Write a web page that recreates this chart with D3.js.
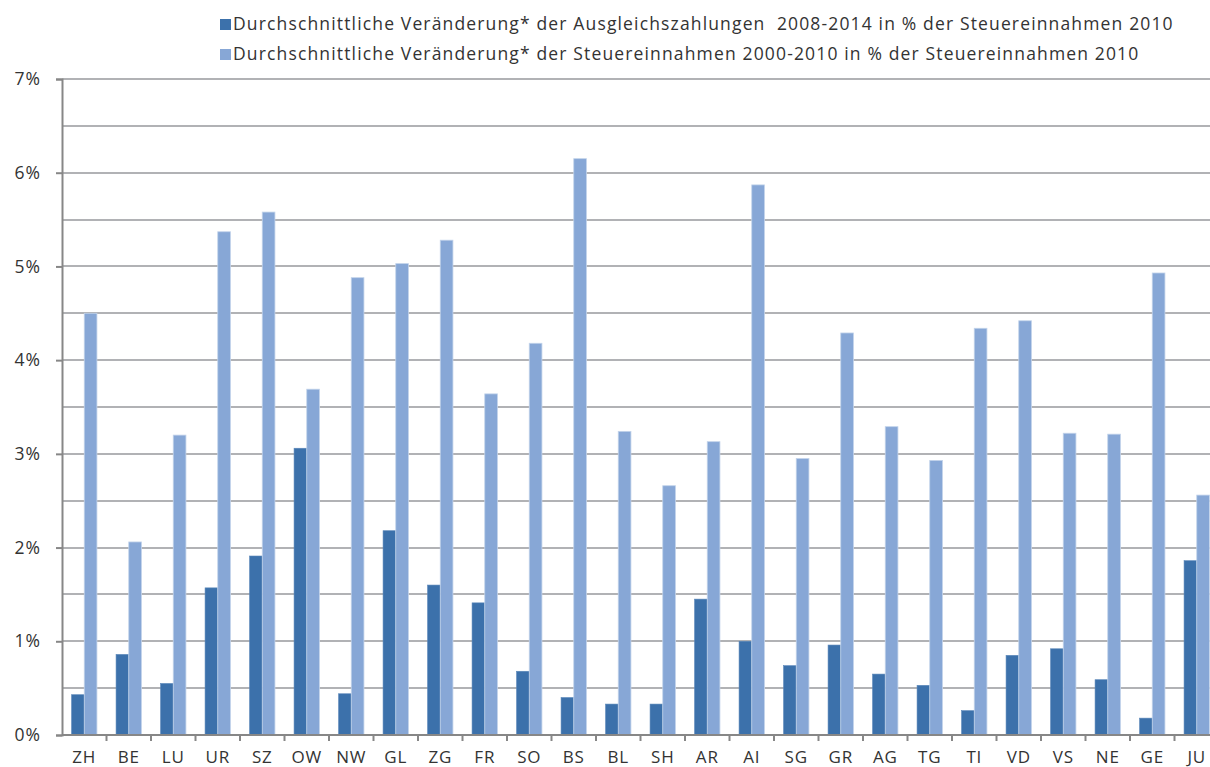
<!DOCTYPE html>
<html>
<head>
<meta charset="utf-8">
<script src="https://cdn.jsdelivr.net/npm/d3@7"></script>
<style>
  body { margin: 0; background: #fff; }
  svg { display: block; font-family: "Open Sans", "Noto Sans", sans-serif; }
  .legendText { white-space: pre; }
</style>
</head>
<body>
<svg id="chart" width="1210" height="767"></svg>
<script>
const cantons = ['ZH','BE','LU','UR','SZ','OW','NW','GL','ZG','FR','SO','BS','BL','SH','AR','AI','SG','GR','AG','TG','TI','VD','VS','NE','GE','JU'];

// Durchschnittliche Veränderung der Ausgleichszahlungen 2008-2014 (% der Steuereinnahmen 2010)
const ausgleich = [0.43,0.86,0.55,1.57,1.91,3.06,0.44,2.18,1.60,1.41,0.68,0.40,0.33,0.33,1.45,1.00,0.74,0.96,0.65,0.53,0.26,0.85,0.92,0.59,0.18,1.86];

// Durchschnittliche Veränderung der Steuereinnahmen 2000-2010 (% der Steuereinnahmen 2010)
const steuer = [4.50,2.06,3.20,5.37,5.58,3.69,4.88,5.03,5.28,3.64,4.18,6.15,3.24,2.66,3.13,5.87,2.95,4.29,3.29,2.93,4.34,4.42,3.22,3.21,4.93,2.56];

const seriesNames = [
    'Durchschnittliche Veränderung* der Ausgleichszahlungen  2008-2014 in % der Steuereinnahmen 2010',
    'Durchschnittliche Veränderung* der Steuereinnahmen 2000-2010 in % der Steuereinnahmen 2010'
];
const seriesColors = ['#3c71ab', '#87a7d6'];
const yTicks = [0,1,2,3,4,5,6,7];

const margin = {left: 62, top: 79, bottom: 32};
const width = 1210, height = 767;
const bandStep = 44.5;

const svg = d3.select('#chart');

const x = d3.scaleBand()
    .domain(cantons)
    .range([margin.left, margin.left + bandStep * cantons.length])
    .paddingInner(0.43)
    .paddingOuter(0.215);

const xInner = d3.scaleBand()
    .domain([0, 1])
    .range([0, x.bandwidth()]);

const y = d3.scaleLinear()
    .domain([0, 7])
    .range([height - margin.bottom, margin.top]);

// Gridlines every 0.5%
const gridVals = d3.range(0.5, 7.01, 0.5);
svg.append('g')
    .selectAll('line')
    .data(gridVals)
    .join('line')
        .attr('x1', margin.left)
        .attr('x2', width)
        .attr('y1', d => Math.round(y(d)))
        .attr('y2', d => Math.round(y(d)))
        .style('stroke', '#b1b2b5')
        .style('stroke-width', 2);

// Bars
const groups = svg.append('g')
    .selectAll('g')
    .data(cantons)
    .join('g')
        .attr('transform', d => `translate(${x(d)},0)`);

groups.append('rect')
    .attr('x', xInner(0))
    .attr('width', xInner.bandwidth())
    .attr('y', (d, i) => y(ausgleich[i]))
    .attr('height', (d, i) => y(0) - y(ausgleich[i]))
    .style('fill', seriesColors[0])
    .style('stroke', '#5a87b9')
    .style('stroke-width', 0.6);

groups.append('rect')
    .attr('x', xInner(1))
    .attr('width', xInner.bandwidth())
    .attr('y', (d, i) => y(steuer[i]))
    .attr('height', (d, i) => y(0) - y(steuer[i]))
    .style('fill', seriesColors[1])
    .style('stroke', '#c2d3ea')
    .style('stroke-width', 0.8);

// Y axis
const yAxis = svg.append('g')
    .attr('transform', `translate(${margin.left},0)`)
    .call(d3.axisLeft(y).tickValues(yTicks).tickFormat(d => d + '%').tickSize(6).tickPadding(15));
yAxis.select('.domain').style('stroke', '#878787').style('stroke-width', 2);
yAxis.selectAll('.tick line').style('stroke', '#878787').style('stroke-width', 2);
yAxis.selectAll('.tick text')
    .style('font-size', '17.5px')
    .style('letter-spacing', '1px')
    .style('fill', '#333')
    .style('font-family', '"Open Sans", sans-serif');

// X axis
const xAxisY = y(0);
svg.append('line')
    .attr('x1', margin.left)
    .attr('x2', width)
    .attr('y1', xAxisY)
    .attr('y2', xAxisY)
    .style('stroke', '#878787')
    .style('stroke-width', 2);

const boundaries = d3.range(1, cantons.length + 1).map(i => margin.left + i * bandStep);
svg.append('g')
    .selectAll('line')
    .data(boundaries)
    .join('line')
        .attr('x1', d => d)
        .attr('x2', d => d)
        .attr('y1', xAxisY)
        .attr('y2', xAxisY + 6)
        .style('stroke', '#878787')
        .style('stroke-width', 2);

svg.append('g')
    .selectAll('text')
    .data(cantons)
    .join('text')
        .attr('x', d => x(d) + x.bandwidth() / 2)
        .attr('y', xAxisY + 28)
        .style('text-anchor', 'middle')
        .style('font-size', '17px')
        .style('letter-spacing', '0.8px')
        .style('fill', '#333')
        .text(d => d);

// Legend
const legend = svg.append('g');
seriesNames.forEach((name, i) => {
    legend.append('rect')
        .attr('x', 220)
        .attr('y', 19 + i * 30)
        .attr('width', 11)
        .attr('height', 11)
        .style('fill', seriesColors[i]);
    legend.append('text')
        .classed('legendText', true)
        .attr('x', 233)
        .attr('y', 30 + i * 30)
        .style('font-size', '17.5px')
        .style('letter-spacing', '1.15px')
        .style('fill', '#333')
        .text(name);
});
</script>
</body>
</html>
